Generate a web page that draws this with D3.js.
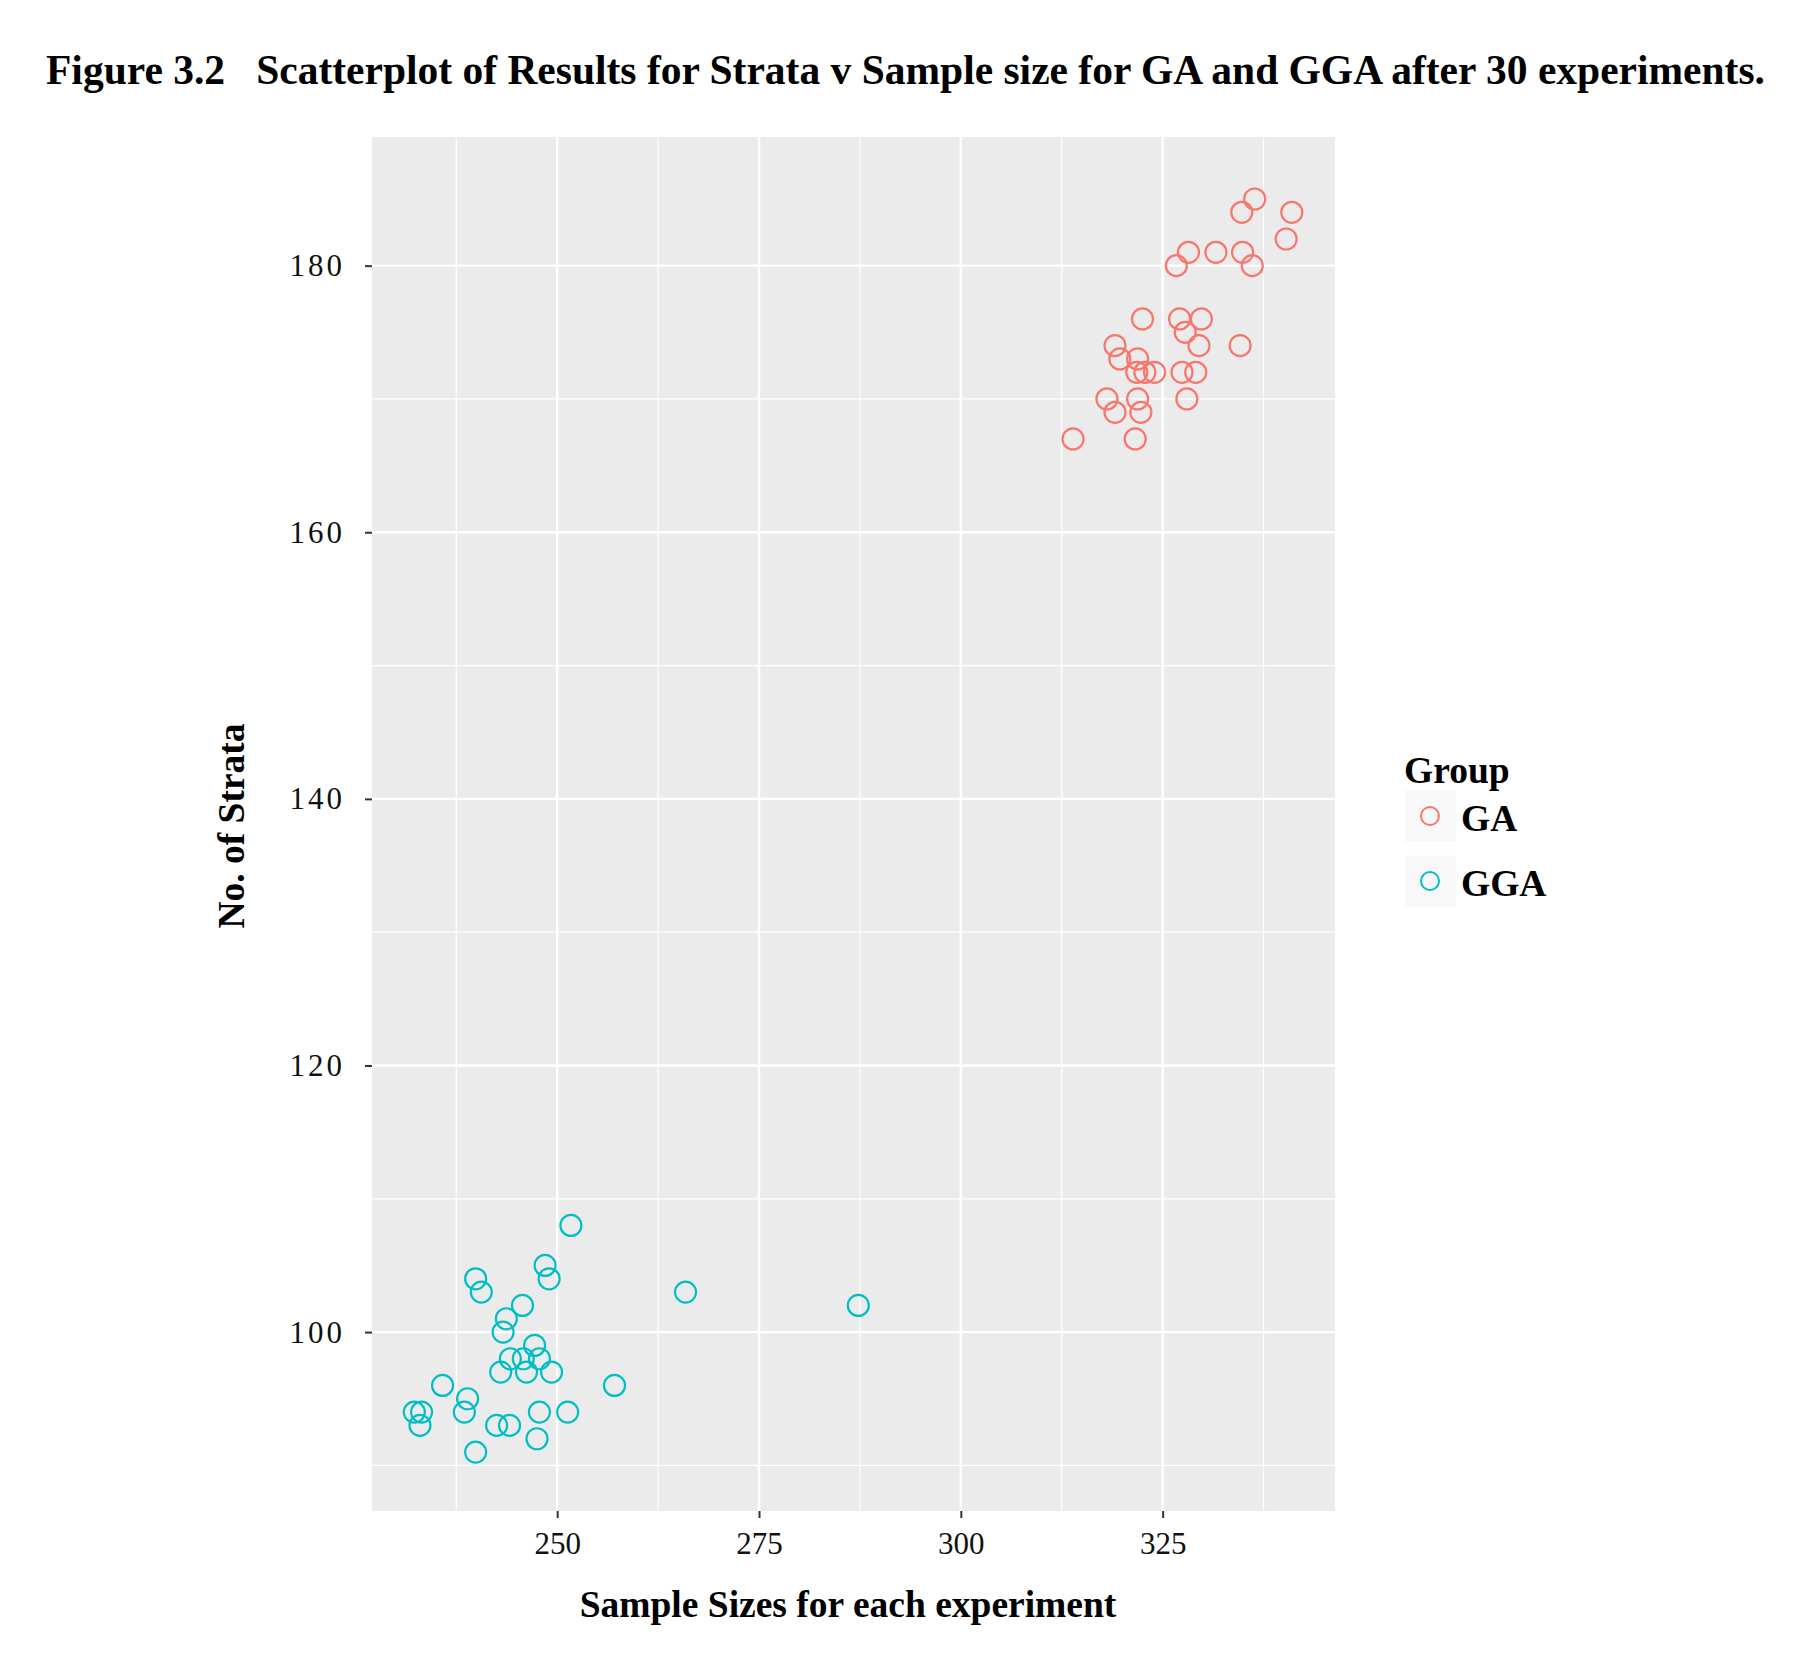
<!DOCTYPE html>
<html>
<head>
<meta charset="utf-8">
<script src="https://cdn.jsdelivr.net/npm/d3@7"></script>
<style>
  body { margin: 0; background: #fff; }
  svg text { font-family: "Liberation Serif", "Times New Roman", serif; }
</style>
</head>
<body>
<svg id="chart"></svg>
<script>
// Data
const gaSample = [336.4, 334.8, 341, 340.3, 326.7, 328.2, 331.6, 334.9, 336.1, 322.5,
                  327.1, 329.8, 327.8, 329.5, 334.6, 319.1, 319.7, 321.9, 321.8, 322.8,
                  324, 327.4, 329.1, 318.1, 321.9, 328, 319.1, 322.3, 313.9, 321.6];
const gaStrata = [185, 184, 184, 182, 180, 181, 181, 181, 180, 176,
                  176, 176, 175, 174, 174, 174, 173, 173, 172, 172,
                  172, 172, 172, 170, 170, 170, 169, 169, 167, 167];

const ggaSample = [251.7, 248.5, 249, 239.9, 240.6, 245.7, 243.7, 243.3, 247.2, 244.2,
                   245.8, 247.8, 243, 246.2, 249.3, 257.1, 235.8, 238.9, 238.5, 247.8,
                   251.3, 232.3, 233.2, 233, 242.5, 244.1, 247.5, 239.9, 265.9, 287.3];
const ggaStrata = [108, 105, 104, 104, 103, 102, 101, 100, 99, 98,
                   98, 98, 97, 97, 97, 96, 96, 95, 94, 94,
                   94, 94, 94, 93, 93, 93, 92, 91, 103, 102];

const groups = ["GA", "GGA"];
const groupColors = ["#F8766D", "#00BFC4"];

const xTicks = [250, 275, 300, 325];
const xMinor = [237.5, 262.5, 287.5, 312.5, 337.5];
const yTicks = [100, 120, 140, 160, 180];
const yMinor = [90, 110, 130, 150, 170];

const titleText = "Figure 3.2   Scatterplot of Results for Strata v Sample size for GA and GGA after 30 experiments.";

// Layout
const width = 1808, height = 1670;
const panel = { left: 372, right: 1335, top: 137, bottom: 1511 };

const svg = d3.select("#chart")
    .attr("width", width)
    .attr("height", height);

// Scales (ggplot style padding of the data range)
const x = d3.scaleLinear().domain([227.06, 346.35]).range([panel.left, panel.right]);
const y = d3.scaleLinear().domain([86.58, 189.65]).range([panel.bottom, panel.top]);

const color = d3.scaleOrdinal().domain(groups).range(groupColors);

// Title
svg.append("text")
    .attr("x", 46)
    .attr("y", 84)
    .attr("font-size", 41.5)
    .attr("font-weight", "bold")
    .attr("fill", "#000")
    .style("white-space", "pre")
    .text(titleText);

// Panel background
svg.append("rect")
    .attr("x", panel.left)
    .attr("y", panel.top)
    .attr("width", panel.right - panel.left)
    .attr("height", panel.bottom - panel.top)
    .attr("fill", "#EBEBEB");

const grid = svg.append("g");

// minor grid
grid.selectAll(".xminor").data(xMinor).enter().append("line")
    .attr("x1", d => x(d)).attr("x2", d => x(d))
    .attr("y1", panel.top).attr("y2", panel.bottom)
    .attr("stroke", "#fff").attr("stroke-width", 1.2);
grid.selectAll(".yminor").data(yMinor).enter().append("line")
    .attr("y1", d => y(d)).attr("y2", d => y(d))
    .attr("x1", panel.left).attr("x2", panel.right)
    .attr("stroke", "#fff").attr("stroke-width", 1.2);

// major grid
grid.selectAll(".xmajor").data(xTicks).enter().append("line")
    .attr("x1", d => x(d)).attr("x2", d => x(d))
    .attr("y1", panel.top).attr("y2", panel.bottom)
    .attr("stroke", "#fff").attr("stroke-width", 2.4);
grid.selectAll(".ymajor").data(yTicks).enter().append("line")
    .attr("y1", d => y(d)).attr("y2", d => y(d))
    .attr("x1", panel.left).attr("x2", panel.right)
    .attr("stroke", "#fff").attr("stroke-width", 2.4);

// Axes
const xAxis = d3.axisBottom(x).tickValues(xTicks).tickSize(7).tickPadding(14);
const yAxis = d3.axisLeft(y).tickValues(yTicks).tickSize(7).tickPadding(20);

const gx = svg.append("g")
    .attr("transform", `translate(0,${panel.bottom})`)
    .call(xAxis);
const gy = svg.append("g")
    .attr("transform", `translate(${panel.left},0)`)
    .call(yAxis);

[gx, gy].forEach(g => {
    g.select(".domain").remove();
    g.selectAll(".tick line").attr("stroke", "#333").attr("stroke-width", 2);
    g.selectAll(".tick text")
        .attr("fill", "#111")
        .attr("font-size", 31)
        .attr("font-family", "Liberation Serif, serif");
});
// y labels in the figure are drawn wider
gy.selectAll(".tick text").attr("letter-spacing", 3);

// Axis titles
svg.append("text")
    .attr("x", 848)
    .attr("y", 1617)
    .attr("text-anchor", "middle")
    .attr("font-size", 37.5)
    .attr("font-weight", "bold")
    .text("Sample Sizes for each experiment");

svg.append("text")
    .attr("transform", `translate(244,826) rotate(-90)`)
    .attr("text-anchor", "middle")
    .attr("font-size", 37.5)
    .attr("font-weight", "bold")
    .text("No. of Strata");

// Points
function drawGroup(xs, ys, group) {
    svg.append("g").selectAll("circle")
        .data(xs.map((v, i) => [v, ys[i]]))
        .enter().append("circle")
        .attr("cx", d => x(d[0]))
        .attr("cy", d => y(d[1]))
        .attr("r", 10.5)
        .attr("fill", "none")
        .attr("stroke", color(group))
        .attr("stroke-width", 2.2);
}
drawGroup(gaSample, gaStrata, "GA");
drawGroup(ggaSample, ggaStrata, "GGA");

// Legend
const legend = svg.append("g").attr("transform", "translate(1404,0)");
legend.append("text")
    .attr("x", 0)
    .attr("y", 783)
    .attr("font-size", 37.5)
    .attr("font-weight", "bold")
    .text("Group");

const items = legend.selectAll(".item").data(groups).enter().append("g")
    .attr("transform", (d, i) => `translate(0,${790 + i * 65})`);
items.append("rect")
    .attr("x", 0).attr("y", 0)
    .attr("width", 52).attr("height", 52)
    .attr("fill", "#F8F8F8")
    .attr("stroke", "#fff");
items.append("circle")
    .attr("cx", 26).attr("cy", 26)
    .attr("r", 9)
    .attr("fill", "none")
    .attr("stroke", d => color(d))
    .attr("stroke-width", 2);
items.append("text")
    .attr("x", 57)
    .attr("y", 41)
    .attr("font-size", 37.5)
    .attr("font-weight", "bold")
    .text(d => d);
</script>
</body>
</html>
